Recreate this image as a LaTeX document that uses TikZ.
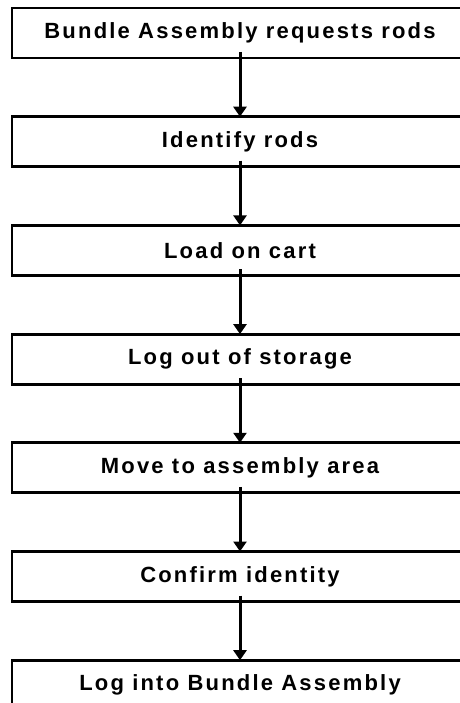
\documentclass[tikz,border=0pt]{standalone}
\usepackage{fontspec}
\newfontfamily\stepfont{Liberation Sans}[LetterSpace=10]
\usepackage{tikz}
\usetikzlibrary{arrows.meta,positioning}

\begin{document}
\begin{tikzpicture}[
    x=1pt, y=1pt,
    node distance=58.7pt,
    stepbox/.style={draw, line width=2.8pt, outer sep=0pt, minimum width=456pt, minimum height=50pt,
                    inner sep=0pt, font=\stepfont\bfseries\fontsize{22}{26}\selectfont},
    arr/.style={-{Triangle[length=10pt,width=13pt]}, line width=3pt, shorten <=-6pt}
]
\useasboundingbox (0,0) rectangle (459,-703);

% Flow of steps
\node[stepbox] at (240,-33) (req)  {Bundle Assembly requests rods};
\node[stepbox, below=of req]   (ident)   {Identify rods};
\node[stepbox, below=of ident] (load)    {Load on cart};
\node[stepbox, below=of load]  (logout)  {Log out of storage};
\node[stepbox, below=of logout] (move)   {Move to assembly area};
\node[stepbox, below=of move]  (confirm) {Confirm identity};
\node[stepbox, below=of confirm] (login) {Log into Bundle Assembly};

% Arrows
\draw[arr] (req)     -- (ident);
\draw[arr] (ident)   -- (load);
\draw[arr] (load)    -- (logout);
\draw[arr] (logout)  -- (move);
\draw[arr] (move)    -- (confirm);
\draw[arr] (confirm) -- (login);

\end{tikzpicture}
\end{document}
